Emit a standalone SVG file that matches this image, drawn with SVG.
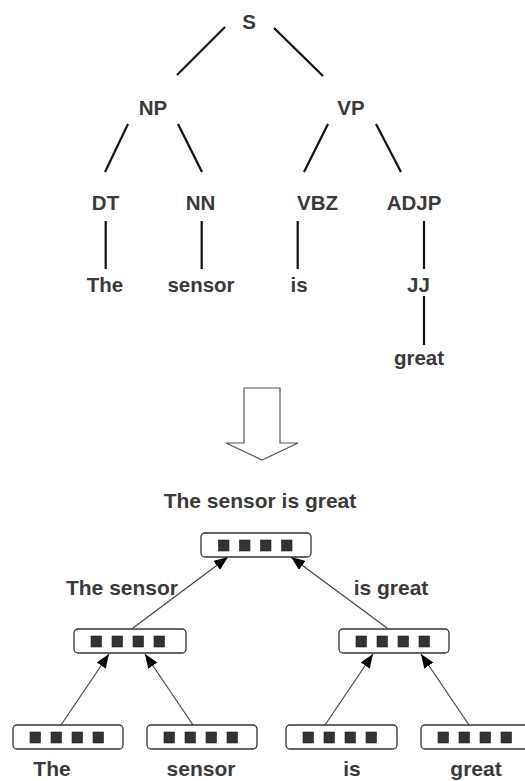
<svg xmlns="http://www.w3.org/2000/svg" width="525" height="781" viewBox="0 0 525 781">
<style>
  .t { font-family: "Liberation Sans", Arial, sans-serif; font-weight: bold; font-size: 20.5px; fill: #3a3a3a; text-anchor: middle; }
  .b { font-family: "Liberation Sans", Arial, sans-serif; font-weight: bold; font-size: 21px; fill: #3a3a3a; text-anchor: middle; }
  .tl { stroke: #111; stroke-width: 2.2; fill: none; stroke-linecap: butt; }
  .box { fill: #fff; stroke: #333; stroke-width: 1.3; }
  .sq { fill: #333; stroke: #222; stroke-width: 0.6; }
  .ar { stroke: #444; stroke-width: 1.2; fill: none; marker-end: url(#ah); }
</style>
<defs>
  <marker id="ah" viewBox="0 0 14 11" refX="14" refY="5.5" markerWidth="14" markerHeight="11" markerUnits="userSpaceOnUse" orient="auto">
    <path d="M0,0 L14,5.5 L0,11 Z" fill="#000"/>
  </marker>
  <g id="cells">
    <rect class="sq" x="0" y="0" width="10.5" height="11"/>
    <rect class="sq" x="21" y="0" width="10.5" height="11"/>
    <rect class="sq" x="42" y="0" width="10.5" height="11"/>
    <rect class="sq" x="63" y="0" width="10.5" height="11"/>
  </g>
</defs>
<rect width="525" height="781" fill="#fff"/>

<!-- Parse tree -->
<g id="tree-edges">
  <line class="tl" x1="225" y1="27" x2="177" y2="75"/>
  <line class="tl" x1="274" y1="28" x2="323" y2="76"/>
  <line class="tl" x1="128" y1="124" x2="105" y2="172"/>
  <line class="tl" x1="178" y1="124" x2="202" y2="172"/>
  <line class="tl" x1="328" y1="124" x2="304" y2="172"/>
  <line class="tl" x1="376" y1="124" x2="401" y2="172"/>
  <line class="tl" x1="105.7" y1="221" x2="105.7" y2="269"/>
  <line class="tl" x1="201.7" y1="221" x2="201.7" y2="269"/>
  <line class="tl" x1="297.7" y1="221" x2="297.7" y2="269"/>
  <line class="tl" x1="424" y1="221" x2="424" y2="269"/>
  <line class="tl" x1="424" y1="296" x2="424" y2="345"/>
</g>
<g id="n-S"><text class="t" x="249" y="29">S</text></g>
<g id="n-NP"><text class="t" x="153" y="115">NP</text></g>
<g id="n-VP"><text class="t" x="351" y="115">VP</text></g>
<g id="n-DT"><text class="t" x="105.5" y="210">DT</text></g>
<g id="n-NN"><text class="t" x="200.5" y="210">NN</text></g>
<g id="n-VBZ"><text class="t" x="317.5" y="210">VBZ</text></g>
<g id="n-ADJP"><text class="t" x="414" y="210">ADJP</text></g>
<g id="n-The"><text class="t" x="105" y="292">The</text></g>
<g id="n-sensor"><text class="t" x="201" y="292">sensor</text></g>
<g id="n-is"><text class="t" x="299" y="292">is</text></g>
<g id="n-JJ"><text class="t" x="418.5" y="292">JJ</text></g>
<g id="n-great"><text class="t" x="419" y="365">great</text></g>

<!-- Transformation arrow -->
<g id="big-arrow">
  <path d="M244,443 L244,388 L280,388 L280,443 L298,443 L262,460 L226,443 Z" fill="#fff" stroke="#555" stroke-width="1.2"/>
</g>

<!-- Recursive network -->
<g id="connectors">
  <line class="ar" x1="133" y1="628" x2="228" y2="557"/>
  <line class="ar" x1="387" y1="628" x2="291" y2="557"/>
  <line class="ar" x1="61" y1="725" x2="109" y2="654"/>
  <line class="ar" x1="193" y1="725" x2="145" y2="654"/>
  <line class="ar" x1="325" y1="725" x2="373" y2="654"/>
  <line class="ar" x1="469" y1="725" x2="421" y2="654"/>
</g>

<g id="root-node">
  <text class="b" x="260" y="508">The sensor is great</text>
  <rect class="box" x="201" y="533" width="110" height="24" rx="4"/>
  <use href="#cells" x="218.5" y="540"/>
</g>
<g id="left-node">
  <text class="b" x="122" y="595">The sensor</text>
  <rect class="box" x="74" y="629" width="112" height="24" rx="4"/>
  <use href="#cells" x="91" y="636"/>
</g>
<g id="right-node">
  <text class="b" x="391" y="595">is great</text>
  <rect class="box" x="339" y="629" width="110" height="24" rx="4"/>
  <use href="#cells" x="356" y="636"/>
</g>
<g id="leaf-The">
  <rect class="box" x="13" y="725" width="110" height="24" rx="4"/>
  <use href="#cells" x="30" y="732"/>
  <text class="b" x="52" y="776">The</text>
</g>
<g id="leaf-sensor">
  <rect class="box" x="147" y="725" width="110" height="24" rx="4"/>
  <use href="#cells" x="164" y="732"/>
  <text class="b" x="201" y="776">sensor</text>
</g>
<g id="leaf-is">
  <rect class="box" x="286" y="725" width="111" height="24" rx="4"/>
  <use href="#cells" x="303" y="732"/>
  <text class="b" x="352" y="776">is</text>
</g>
<g id="leaf-great">
  <rect class="box" x="421" y="725" width="110" height="24" rx="4"/>
  <use href="#cells" x="438" y="732"/>
  <text class="b" x="476" y="776">great</text>
</g>
</svg>
